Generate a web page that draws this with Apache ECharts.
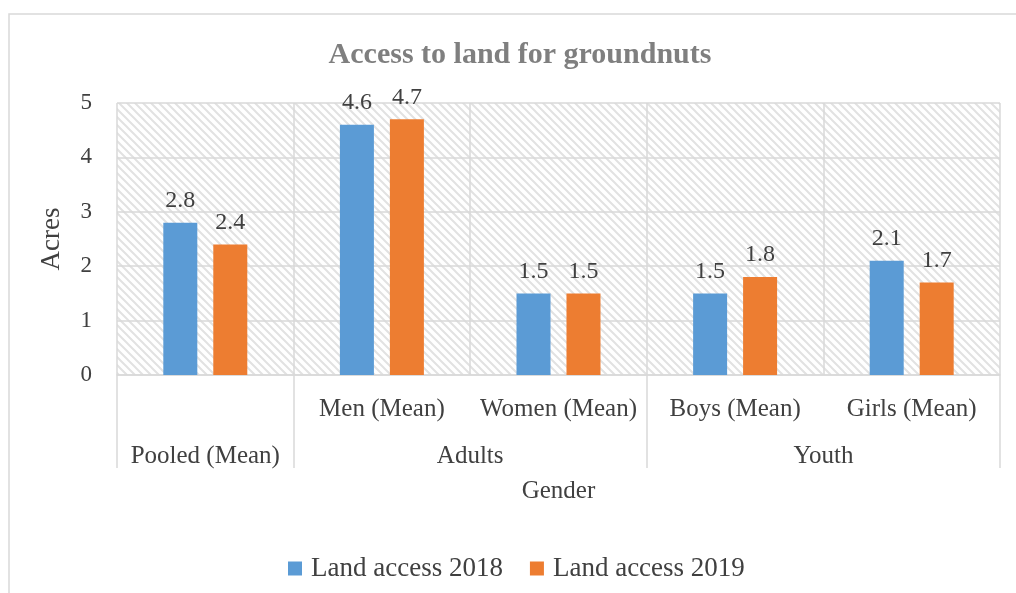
<!DOCTYPE html>
<html>
<head>
<meta charset="utf-8">
<script src="https://cdn.jsdelivr.net/npm/echarts@6/dist/echarts.min.js"></script>
<style>
  html, body { margin: 0; padding: 0; background: #ffffff; }
  #chart { width: 1016px; height: 593px; }
</style>
</head>
<body>
<div id="chart"></div>
<script>
// Sub-category labels (first row) and their groups (second row)
const subLabels = ['', 'Men (Mean)', 'Women (Mean)', 'Boys (Mean)', 'Girls (Mean)'];
const groupNames = ['Pooled (Mean)', 'Adults', 'Youth'];
const groupSizes = [1, 2, 2];

// Mean land access in acres
const access2018 = [2.8, 4.6, 1.5, 1.5, 2.1];
const access2019 = [2.4, 4.7, 1.5, 1.8, 1.7];

const seriesNames = ['Land access 2018', 'Land access 2019'];
const yTicks = [0, 1, 2, 3, 4, 5];

// Group boundaries and centres along a 0..N scale that lines up with the categories
const groupEdges = [0];
groupSizes.forEach(s => groupEdges.push(groupEdges[groupEdges.length - 1] + s));
const groupCentres = groupSizes.map((s, i) => groupEdges[i] + s / 2);

// Diagonal hatch used for the plot background
function hatchPattern() {
  const c = document.createElement('canvas');
  const n = 8;
  c.width = n; c.height = n;
  const ctx = c.getContext('2d');
  ctx.fillStyle = '#ffffff';
  ctx.fillRect(0, 0, n, n);
  ctx.strokeStyle = '#e2e2e2';
  ctx.lineWidth = 2;
  ctx.beginPath();
  for (let k = -1; k <= 1; k++) {
    ctx.moveTo(k * n - 1, -1);
    ctx.lineTo(k * n + n + 1, n + 1);
  }
  ctx.stroke();
  return c;
}

const FONT = '"Liberation Serif", "Times New Roman", serif';
const TXT = '#404040';
const GRID = '#d9d9d9';

const chart = echarts.init(document.getElementById('chart'), null, { renderer: 'canvas' });

const labelStyle = {
  show: true,
  position: 'top',
  distance: 10,
  color: TXT,
  fontFamily: FONT,
  fontSize: 24
};

chart.setOption({
  animation: false,
  backgroundColor: '#ffffff',
  graphic: [{
    type: 'rect',
    shape: { x: 9, y: 14, width: 1040, height: 620 },
    style: { fill: 'none', stroke: GRID, lineWidth: 1.5 },
    z: -10
  }],
  title: {
    text: 'Access to land for groundnuts',
    left: 515,
    top: 35,
    textAlign: 'center',
    textStyle: { fontFamily: FONT, fontSize: 30, fontWeight: 'bold', color: '#7f7f7f' }
  },
  legend: {
    left: 283,
    top: 550,
    itemWidth: 14,
    itemHeight: 14,
    itemGap: 27,
    icon: 'rect',
    data: seriesNames,
    textStyle: { fontFamily: FONT, fontSize: 27, color: TXT, padding: [0, 0, 0, 4] }
  },
  grid: {
    left: 117,
    right: 16,
    top: 103,
    bottom: 218,
    show: true,
    borderWidth: 0,
    backgroundColor: { image: hatchPattern(), repeat: 'repeat' }
  },
  xAxis: [{
    type: 'category',
    data: subLabels,
    position: 'bottom',
    axisLine: { show: true, lineStyle: { color: GRID, width: 1.5 } },
    axisTick: { show: false },
    splitLine: { show: true, lineStyle: { color: GRID, width: 1.5 } },
    axisLabel: { margin: 22, color: TXT, fontFamily: FONT, fontSize: 25, interval: 0 }
  }, {
    type: 'value',
    min: 0,
    max: subLabels.length,
    position: 'bottom',
    name: 'Gender',
    nameLocation: 'middle',
    nameGap: 104,
    nameTextStyle: { color: TXT, fontFamily: FONT, fontSize: 25 },
    axisLine: { show: false },
    splitLine: { show: false },
    axisTick: {
      show: true,
      customValues: groupEdges,
      length: 93,
      lineStyle: { color: GRID, width: 1.5 }
    },
    axisLabel: {
      show: true,
      customValues: groupCentres,
      margin: 69,
      color: TXT,
      fontFamily: FONT,
      fontSize: 25,
      formatter: v => {
        const i = groupCentres.findIndex(c => Math.abs(c - v) < 1e-6);
        return i >= 0 ? groupNames[i] : '';
      }
    }
  }],
  yAxis: {
    type: 'value',
    min: yTicks[0],
    max: yTicks[yTicks.length - 1],
    interval: 1,
    name: 'Acres',
    nameLocation: 'middle',
    nameGap: 52,
    nameTextStyle: { color: TXT, fontFamily: FONT, fontSize: 27 },
    axisLine: { show: false },
    axisTick: { show: false },
    splitLine: { show: true, lineStyle: { color: GRID, width: 1.5 } },
    axisLabel: { margin: 25, color: TXT, fontFamily: FONT, fontSize: 23 }
  },
  series: [{
    name: seriesNames[0],
    type: 'bar',
    xAxisIndex: 0,
    data: access2018,
    barWidth: 34,
    barGap: '47%',
    itemStyle: { color: '#5b9bd5' },
    label: labelStyle
  }, {
    name: seriesNames[1],
    type: 'bar',
    xAxisIndex: 0,
    data: access2019,
    barWidth: 34,
    barGap: '47%',
    itemStyle: { color: '#ed7d31' },
    label: labelStyle
  }]
});
</script>
</body>
</html>
